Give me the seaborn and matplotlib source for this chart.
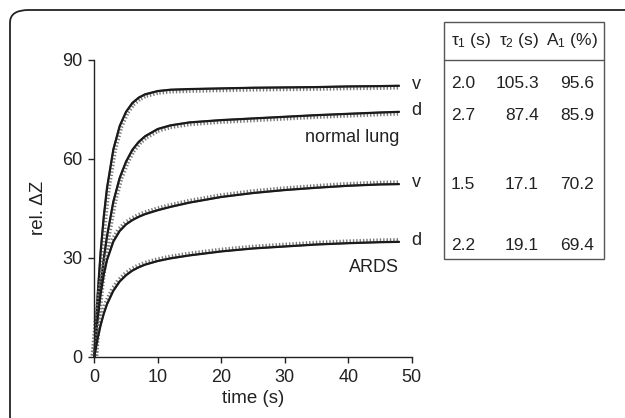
import numpy as np
import pandas as pd
import matplotlib
matplotlib.use("Agg")
import matplotlib.pyplot as plt
import matplotlib.patheffects as pe
from matplotlib.patches import FancyBboxPatch, Rectangle
from matplotlib.lines import Line2D
import seaborn as sns

# --- DATA ---
times = [0, 0.5, 1, 1.5, 2, 3, 4, 5, 6, 7, 8, 10, 12, 15, 20, 25, 30, 35, 40, 45, 48]
normal_v = [0, 17.9, 31.8, 42.6, 51.1, 62.8, 69.9, 74.2, 76.9, 78.5, 79.5, 80.5,
            80.9, 81.1, 81.3, 81.5, 81.6, 81.7, 81.9, 82.0, 82.1]
normal_d = [0, 11.8, 21.6, 29.7, 36.5, 47.0, 54.2, 59.1, 62.7, 65.1, 66.8, 69.0,
            70.1, 71.0, 71.7, 72.2, 72.7, 73.2, 73.6, 74.0, 74.2]
ards_v = [0, 11.1, 19.1, 25.0, 29.3, 34.9, 38.1, 40.1, 41.4, 42.4, 43.2, 44.4,
          45.4, 46.7, 48.4, 49.6, 50.5, 51.2, 51.8, 52.2, 52.3]
ards_d = [0, 5.3, 9.6, 13.1, 15.9, 20.0, 22.8, 24.7, 26.1, 27.1, 27.9, 29.0,
          29.8, 30.7, 31.9, 32.8, 33.4, 34.0, 34.4, 34.7, 34.8]

curve_labels = ["v", "d", "v", "d"]
tau1 = [2.0, 2.7, 1.5, 2.2]
tau2 = [105.3, 87.4, 17.1, 19.1]
a1 = [95.6, 85.9, 70.2, 69.4]
headers = [r"$\tau_1$ (s)", r"$\tau_2$ (s)", r"A$_1$ (%)"]

series = {"normal v": normal_v, "normal d": normal_d, "ARDS v": ards_v, "ARDS d": ards_d}

# --- STYLE ---
sns.set_style("ticks")
plt.rcParams["font.family"] = ["Liberation Sans", "DejaVu Sans"]
plt.rcParams["mathtext.fontset"] = "custom"
plt.rcParams["mathtext.rm"] = "Liberation Sans"
plt.rcParams["mathtext.it"] = "Liberation Sans"

TXT = "#222222"
fig = plt.figure(figsize=(6.25, 4.18), dpi=100)
W, H = 625, 418
ax = fig.add_axes([94.3 / W, 1 - 356.7 / H, (411.7 - 94.3) / W, (356.7 - 59.7) / H])

# rounded frame round the figure (cut at right and bottom)
frame = FancyBboxPatch((10 / W, -0.2), 1.2, 1 - 10 / H + 0.2,
                       boxstyle="round,pad=0,rounding_size=0.03",
                       transform=fig.transFigure, fill=False,
                       edgecolor=TXT, linewidth=1.3)
fig.patches.append(frame)

# measured traces (grey, with ventilation teeth) and fitted curves (black)
tick_dirs = {"normal v": -90, "normal d": -90, "ARDS v": 90, "ARDS d": 90}
for name, vals in series.items():
    df = pd.DataFrame({"t": times, "z": vals})
    sns.lineplot(data=df, x="t", y="z", ax=ax, color="#7a7a7a", linewidth=1.3,
                 path_effects=[pe.TickedStroke(spacing=2.4, angle=tick_dirs[name],
                                               length=1.0, linewidth=1.0),
                               pe.Normal()],
                 clip_on=False)
    sns.lineplot(data=df, x="t", y="z", ax=ax, color="#1a1a1a", linewidth=1.6,
                 clip_on=False)

ax.set_xlim(0, 50)
ax.set_ylim(0, 90)
ax.set_xticks([0, 10, 20, 30, 40, 50])
ax.set_yticks([0, 30, 60, 90])
ax.tick_params(labelsize=13, length=4.5, width=1, color=TXT, labelcolor=TXT, pad=4)
ax.set_xlabel("time (s)", fontsize=13.5, color=TXT, labelpad=3)
ax.set_ylabel("rel. \u0394Z", fontsize=13.5, color=TXT, labelpad=11)
for s in ["left", "bottom"]:
    ax.spines[s].set_color(TXT)
    ax.spines[s].set_linewidth(1.0)
sns.despine(ax=ax)

# curve labels
ends = [normal_v[-1], normal_d[-1], ards_v[-1], ards_d[-1]]
for lab, z in zip(curve_labels, ends):
    ax.annotate(lab, xy=(times[-1], z), xytext=(9, 1), textcoords="offset points",
                ha="left", va="center", fontsize=13, color=TXT)
ax.text(48, 66.3, "normal lung", ha="right", va="center", fontsize=13, color=TXT)
ax.text(48, 26.9, "ARDS", ha="right", va="center", fontsize=13, color=TXT)

# --- TABLE ---
tx0, tx1 = 444, 604
ty0, ty1, ty_head = 22, 259, 60
fig.patches.append(Rectangle((tx0 / W, 1 - ty1 / H), (tx1 - tx0) / W, (ty1 - ty0) / H,
                             transform=fig.transFigure, fill=False,
                             edgecolor="#555555", linewidth=1.0))
fig.lines.append(Line2D([tx0 / W, tx1 / W], [1 - ty_head / H, 1 - ty_head / H],
                        transform=fig.transFigure, color="#555555", linewidth=1.0))
head_x = [471, 519, 572]
for hx, h in zip(head_x, headers):
    fig.text(hx / W, 1 - 41 / H, h, ha="center", va="center", fontsize=12.5, color=TXT)
row_y = [84, 115, 185, 245]
col_right = [475, 539, 594]
for ry, a, b, c in zip(row_y, tau1, tau2, a1):
    for cx, v in zip(col_right, [a, b, c]):
        fig.text(cx / W, 1 - ry / H, f"{v:.1f}", ha="right", va="center",
                 fontsize=12.5, color=TXT)

fig.savefig("out.png", dpi=100)
